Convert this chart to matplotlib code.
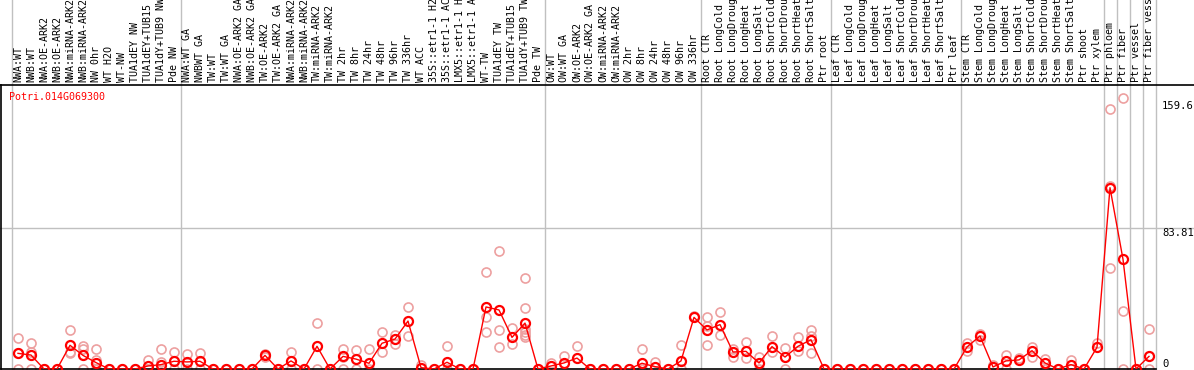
import matplotlib
matplotlib.use('Agg')
import matplotlib.pyplot as plt

gene = 'Potri.014G069300'

samples = ['NWA:WT', 'NWB:WT', 'NWA:OE-ARK2', 'NWB:OE-ARK2', 'NWA:miRNA-ARK2', 'NWB:miRNA-ARK2',
           'NW 0hr', 'WT H2O', 'WT-NW', 'TUA1dEY NW', 'TUA1dEY+TUB15 NW', 'TUA1dY+TUB9 NW', 'Pde NW',
           'NWA:WT GA', 'NWBWT GA', 'TW:WT', 'TW:WT GA', 'NWA:OE-ARK2 GA', 'NWB:OE-ARK2 GA',
           'TW:OE-ARK2', 'TW:OE-ARK2 GA', 'NWA:miRNA-ARK2', 'NWB:miRNA-ARK2', 'TW:miRNA-ARK2',
           'TW:miRNA-ARK2', 'TW 2hr', 'TW 8hr', 'TW 24hr', 'TW 48hr', 'TW 96hr', 'TW 336hr', 'WT ACC',
           '35S::etr1-1 H2O', '35S::etr1-1 ACC', 'LMX5::etr1-1 H2O', 'LMX5::etr1-1 ACC', 'WT-TW',
           'TUA1dEY TW', 'TUA1dEY+TUB15 TW', 'TUA1dY+TUB9 TW', 'Pde TW',
           'OW:WT', 'OW:WT GA', 'OW:OE-ARK2', 'OW:OE-ARK2 GA', 'OW:miRNA-ARK2', 'OW:miRNA-ARK2',
           'OW 2hr', 'OW 8hr', 'OW 24hr', 'OW 48hr', 'OW 96hr', 'OW 336hr',
           'Root CTR', 'Root LongCold', 'Root LongDrought', 'Root LongHeat', 'Root LongSalt',
           'Root ShortCold', 'Root ShortDrought', 'Root ShortHeat', 'Root ShortSalt', 'Ptr root',
           'Leaf CTR', 'Leaf LongCold', 'Leaf LongDrought', 'Leaf LongHeat', 'Leaf LongSalt',
           'Leaf ShortCold', 'Leaf ShortDrought', 'Leaf ShortHeat', 'Leaf ShortSalt', 'Ptr leaf',
           'Stem CTR', 'Stem LongCold', 'Stem LongDrought', 'Stem LongHeat', 'Stem LongSalt',
           'Stem ShortCold', 'Stem ShortDrought', 'Stem ShortHeat', 'Stem ShortSalt', 'Ptr shoot',
           'Ptr xylem', 'Ptr phloem', 'Ptr fiber', 'Ptr vessel', 'Ptr fiber vessel']

# group sizes, a gray separator after each
group_sizes = [13, 28, 12, 10, 10, 11, 1, 1, 1, 1]

means = [9.3, 8.3, 0, 0, 14.1, 8.1, 3.8, 0, 0, 0, 1.8, 2.6, 4.6,
         4.2, 4.6, 0, 0, 0, 0, 8.1, 0, 4.8, 0, 13.5, 0, 7.5, 5.9, 3.4, 15.3, 17.8, 28.5,
         0.8, 0, 4.0, 0, 0, 36.9, 35.1, 18.8, 27.3, 0,
         1.8, 3.6, 6.5, 0, 0, 0, 0, 3.4, 1.4, 0, 4.8, 30.7,
         23.2, 26.4, 10.1, 10.5, 3.6, 13.3, 7.1, 13.5, 17.4, 0,
         0, 0, 0, 0, 0, 0, 0, 0, 0, 0,
         13.1, 19.6, 1.2, 4.8, 5.4, 10.9, 3.6, 0, 2.6, 0, 12.9,
         107.8, 65.2, 0, 7.5]

reps = [[18.2, 9.7, 0], [15.5, 10.1, 0], [0], [0], [23.2, 9.9, 9.3], [13.7, 11.9, 0],
        [11.9, 5.4, 0], [0], [0], [0], [5.4, 0], [11.9, 4.2, 0], [10.1, 0],
        [8.7, 0], [9.3, 0], [0], [0], [0], [0], [8.9, 7.3], [0], [10.1, 0], [0],
        [27.2, 0], [0], [11.9, 7.3, 0], [11.3, 0], [11.9, 0], [22.0, 9.9], [20.2, 14.9],
        [36.7, 19.4], [2.4], [0], [13.5, 0], [0], [0], [57.5, 31.1, 21.8],
        [70.0, 23.2, 12.9], [24.2, 14.7], [53.9, 36.1, 24.0, 22.0, 20.0, 19.0], [0],
        [3.8], [7.7], [13.5], [0], [0], [0], [0], [11.9, 0], [4.2], [0], [14.1, 0], [31.5],
        [30.7, 25.4, 14.1], [33.9, 20.0], [11.7, 7.3], [16.0, 6.3], [6.9, 0], [19.4, 9.9],
        [12.5, 0], [19.0, 10.7], [23.2, 19.6, 9.3], [0],
        [0], [0], [0], [0], [0], [0], [0], [0], [0], [0],
        [15.3, 10.9], [20.6, 17.4], [2.4], [8.1, 0], [6.5], [13.3, 6.9], [6.1, 0], [0],
        [5.4, 0], [0], [15.3],
        [154.4, 109.0, 59.9], [160.9, 34.3, 0], [0], [23.7, 0]]

y_marks = [159.6, 83.81, 0]

W, H = 1194, 370
fig = plt.figure(figsize=(W / 100, H / 100), dpi=100)
# plot box in pixels: x 1..1155.5, y 85..369 (from top)
ax = fig.add_axes([1 / W, 1 - 369 / H, 1154.5 / W, 284 / H])
ax.set_xlim(-17 / 13, 87.5)
ax.set_ylim(0, 284 / 1.682)
ax.set_xticks([]); ax.set_yticks([])
for s in ['left', 'bottom']:
    ax.spines[s].set_color('black'); ax.spines[s].set_linewidth(1.2)
ax.spines['top'].set_visible(False)
ax.spines['right'].set_visible(False)

mono = 'DejaVu Sans Mono'
top_ext = 369 / 284  # axes fraction of figure top

# group separators running through the label area
b = -0.5
ax.axvline(b, 0, top_ext, color='#c0c0c0', lw=1, clip_on=False)
for n in group_sizes:
    b += n
    ax.axvline(b, 0, top_ext, color='#c0c0c0', lw=1, clip_on=False)

ax.axhline(y_marks[1], -0.01, 1.04, color='#c0c0c0', lw=1, clip_on=False)
ax.axhline(ax.get_ylim()[1], -0.01, 1.04, color='black', lw=1.2, clip_on=False)

# replicates
for i, r in enumerate(reps):
    ax.plot([i] * len(r), r, 'o', ls='none', ms=6.5, mfc='none', mec='#eda0a0', mew=1.2, zorder=2)

x = list(range(len(means)))
ax.plot(x, means, '-', color='red', lw=1, zorder=3)
ax.plot(x, means, 'o', ls='none', ms=6.5, mfc='none', mec='red', mew=1.6, zorder=4)

tr = ax.get_xaxis_transform()
for i, s in enumerate(samples):
    ax.text(i, 1.012, s, transform=tr, rotation=90, ha='center', va='bottom',
            family=mono, fontsize=7.2, color='black', clip_on=False)

ax.text(0.007, 0.958, gene, transform=ax.transAxes, color='red', family=mono,
        fontsize=7.2, va='center', ha='left')

ty = ax.get_yaxis_transform()
ax.text(1.0056, y_marks[0], str(y_marks[0]), transform=ty, va='top', ha='left', family=mono, fontsize=7.6)
ax.text(1.0056, y_marks[1], str(y_marks[1]), transform=ty, va='top', ha='left', family=mono, fontsize=7.6)
ax.text(1.0056, y_marks[2], '0', transform=ty, va='bottom', ha='left', family=mono, fontsize=7.6)

fig.savefig('out.png', dpi=100)
